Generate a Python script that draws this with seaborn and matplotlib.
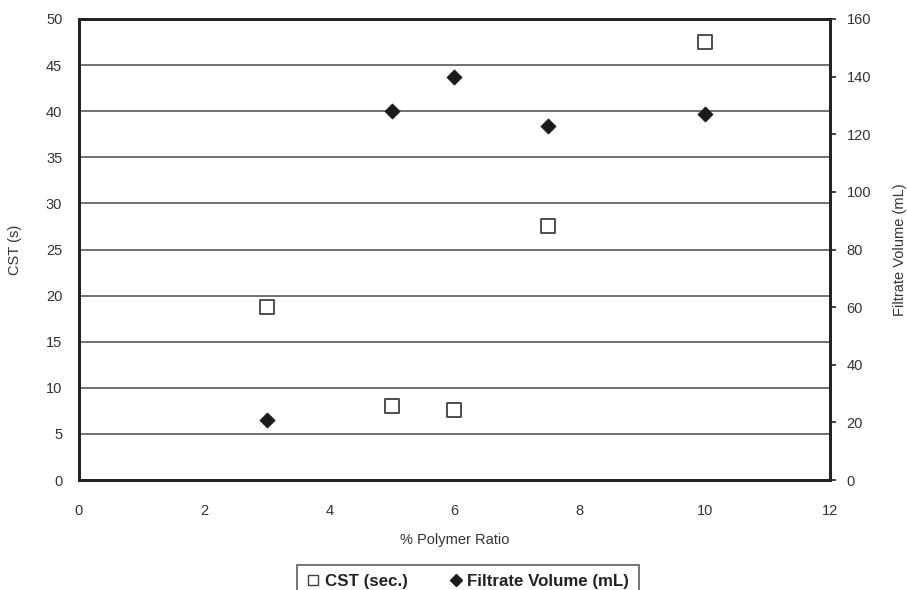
import matplotlib
matplotlib.use("Agg")
import matplotlib.pyplot as plt
import seaborn as sns
import pandas as pd
from matplotlib.lines import Line2D

sns.set_theme(style="white")
plt.rcParams["font.family"] = ["Liberation Sans", "DejaVu Sans"]

# Measurements
polymer_ratio = [3, 5, 6, 7.5, 10]
cst_sec = [18.8, 8.0, 7.6, 27.5, 47.5]
filtrate_ml = [21, 128, 140, 123, 127]

x_ticks = [0, 2, 4, 6, 8, 10, 12]
cst_ticks = [0, 5, 10, 15, 20, 25, 30, 35, 40, 45, 50]
vol_ticks = [0, 20, 40, 60, 80, 100, 120, 140, 160]

df = pd.DataFrame({"ratio": polymer_ratio, "cst": cst_sec, "vol": filtrate_ml})

text_c = "#333333"
fig = plt.figure(figsize=(9.07, 5.90), dpi=100)
ax = fig.add_axes([0.0871, 0.1864, 0.8279, 0.7814])
ax2 = ax.twinx()

# Horizontal grid on the left scale
for v in cst_ticks[1:-1]:
    ax.axhline(v, color="#707070", lw=1.4, zorder=0)

sns.scatterplot(data=df, x="ratio", y="cst", ax=ax, marker="s", s=95,
                facecolor="white", edgecolor="#404040", linewidth=1.3,
                zorder=3, legend=False)
sns.scatterplot(data=df, x="ratio", y="vol", ax=ax2, marker="D", s=60,
                color="#1a1a1a", edgecolor="#1a1a1a", linewidth=0.5,
                zorder=3, legend=False)

ax.set_xlim(0, 12)
ax.set_ylim(0, 50)
ax2.set_ylim(0, 160)
ax.set_xticks(x_ticks)
ax.set_yticks(cst_ticks)
ax2.set_yticks(vol_ticks)

ax.set_xlabel("% Polymer Ratio", fontsize=10.5, color=text_c, labelpad=11)
ax.set_ylabel("CST (s)", fontsize=10.5, color=text_c, labelpad=17)
ax2.set_ylabel("Filtrate Volume (mL)", fontsize=10.5, color=text_c, labelpad=16)

ax.tick_params(axis="y", length=0, labelsize=10.5, labelcolor=text_c, pad=12)
ax.tick_params(axis="x", length=0, labelsize=10.5, labelcolor=text_c, pad=17)
ax2.tick_params(axis="y", length=4, width=1.2, color="#222222", direction="out",
                labelsize=10.5, labelcolor=text_c, pad=8)

for a in (ax, ax2):
    for sp in a.spines.values():
        sp.set_color("#222222")
        sp.set_linewidth(2)

handles = [
    Line2D([], [], linestyle="none", marker="s", markersize=7.5,
           markerfacecolor="white", markeredgecolor="#404040", markeredgewidth=1),
    Line2D([], [], linestyle="none", marker="D", markersize=6.5,
           markerfacecolor="#1a1a1a", markeredgecolor="#1a1a1a"),
]
leg = fig.legend(handles, ["CST (sec.)", "Filtrate Volume (mL)"],
                 loc="upper center", bbox_to_anchor=(0.516, 0.0424), ncol=2,
                 frameon=True, fancybox=False, handlelength=0.8,
                 handletextpad=0.3, columnspacing=2.4, borderpad=0.55,
                 borderaxespad=0, prop={"weight": "bold", "size": 12.2})
leg.get_frame().set_edgecolor("#333333")
leg.get_frame().set_linewidth(1.2)
for t in leg.get_texts():
    t.set_color("#222222")

fig.savefig("out.png", dpi=100)
